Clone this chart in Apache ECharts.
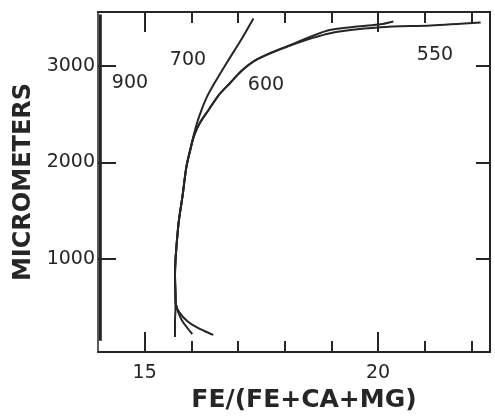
<!DOCTYPE html>
<html>
<head>
<meta charset="utf-8">
<script src="https://cdn.jsdelivr.net/npm/echarts@6/dist/echarts.min.js"></script>
<style>html,body{margin:0;padding:0;background:#fff}#c{width:495px;height:418px}</style>
</head>
<body>
<div id="c"></div>
<script>
// ---- data ----
const xMajorTicks = [15, 20];
const xMinorTicks = [16, 17, 18, 19, 21, 22];
const yTicks = [1000, 2000, 3000];
const curveNames = ['900', '700', '600', '550'];
const curve900 = [[14.05, 146], [14.05, 3534]];
const curve700 = [[15.65, 187], [15.65, 350], [15.66, 472], [15.66, 626], [15.65, 830], [15.72, 1340], [15.81, 1646], [15.894, 1952], [15.98, 2135], [16.065, 2309], [16.172, 2482], [16.322, 2666], [16.494, 2819], [16.773, 3044], [17.051, 3258], [17.33, 3493]];
const curve600 = [[16.02, 217], [15.915, 279], [15.81, 350], [15.72, 442], [15.67, 523], [15.66, 626], [15.65, 830], [15.72, 1340], [15.81, 1646], [15.894, 1952], [15.98, 2135], [16.065, 2285], [16.194, 2417], [16.366, 2540], [16.58, 2693], [16.816, 2815], [17.073, 2948], [17.416, 3070], [18.08, 3207], [18.94, 3371], [19.62, 3411], [20.05, 3432], [20.33, 3462]];
const curve550 = [[16.47, 207], [16.28, 248], [16.11, 289], [15.915, 350], [15.744, 442], [15.67, 523], [15.66, 626], [15.65, 830], [15.72, 1340], [15.81, 1646], [15.894, 1952], [15.98, 2135], [16.065, 2285], [16.194, 2417], [16.366, 2540], [16.58, 2693], [16.816, 2815], [17.073, 2948], [17.416, 3070], [18.08, 3207], [18.98, 3340], [20.05, 3401], [21.13, 3421], [22.20, 3452]];

const INK = '#262626';
const TXT = '#262626';
const numFont = {fontFamily: 'DejaVu Sans', fontSize: 19, color: TXT};

const chart = echarts.init(document.getElementById('c'), null, {renderer: 'canvas'});

function xAx(pos, ticks, len, showLine, showLabel) {
  return {
    type: 'value', position: pos, min: 14, max: 22.4,
    axisLine: {show: showLine, onZero: false, lineStyle: {color: INK, width: 2}},
    axisTick: {show: true, inside: true, length: len, customValues: ticks, lineStyle: {color: INK, width: 2}},
    axisLabel: {show: showLabel, customValues: ticks, margin: 12, formatter: v => String(v), ...numFont},
    splitLine: {show: false}
  };
}

const xAxes = [
  Object.assign(xAx('bottom', xMajorTicks, 20, true, true), {
    name: 'FE/(FE+CA+MG)', nameLocation: 'middle', nameGap: 36,
    nameTextStyle: {fontFamily: 'DejaVu Sans', fontWeight: 'bold', fontSize: 25, color: TXT, padding: [0, 0, 0, 20]}
  }),
  xAx('bottom', xMinorTicks, 11, false, false),
  xAx('top', xMajorTicks, 20, true, false),
  xAx('top', xMinorTicks, 11, true, false)
];

function yAx(pos, len, width, showLabel) {
  return {
    type: 'value', position: pos, min: 30, max: 3560,
    axisLine: {show: true, onZero: false, lineStyle: {color: INK, width: width}},
    axisTick: {show: true, inside: true, length: len, customValues: yTicks, lineStyle: {color: INK, width: 2}},
    axisLabel: {show: showLabel, customValues: yTicks, margin: 3, formatter: v => String(v), ...numFont},
    splitLine: {show: false}
  };
}

const yAxes = [
  Object.assign(yAx('left', 18, 1.5, true), {
    name: 'MICROMETERS', nameLocation: 'middle', nameGap: 62, nameRotate: 90,
    nameTextStyle: {fontFamily: 'DejaVu Sans', fontWeight: 'bold', fontSize: 24, color: TXT}
  }),
  yAx('right', 14, 2, false)
];

const curves = [curve900, curve700, curve600, curve550];
const series = curves.map((d, i) => ({
  name: curveNames[i], type: 'line', data: d, xAxisIndex: 0, yAxisIndex: 0,
  showSymbol: false, smooth: i === 0 ? false : 0.3,
  lineStyle: {color: INK, width: i === 0 ? 3 : 2}, animation: false
}));

const labelPos = [[130, 83], [188, 60], [266, 85], [435, 55]];
const graphic = curveNames.map((t, i) => ({
  type: 'text', x: labelPos[i][0], y: labelPos[i][1],
  style: {text: t, fill: TXT, font: '19px "DejaVu Sans"', textAlign: 'center', textVerticalAlign: 'middle'}
}));

chart.setOption({
  animation: false,
  backgroundColor: '#fff',
  grid: {left: 98, right: 5, top: 12, bottom: 60, containLabel: false},
  xAxis: xAxes,
  yAxis: yAxes,
  series: series,
  graphic: graphic
});
</script>
</body>
</html>
